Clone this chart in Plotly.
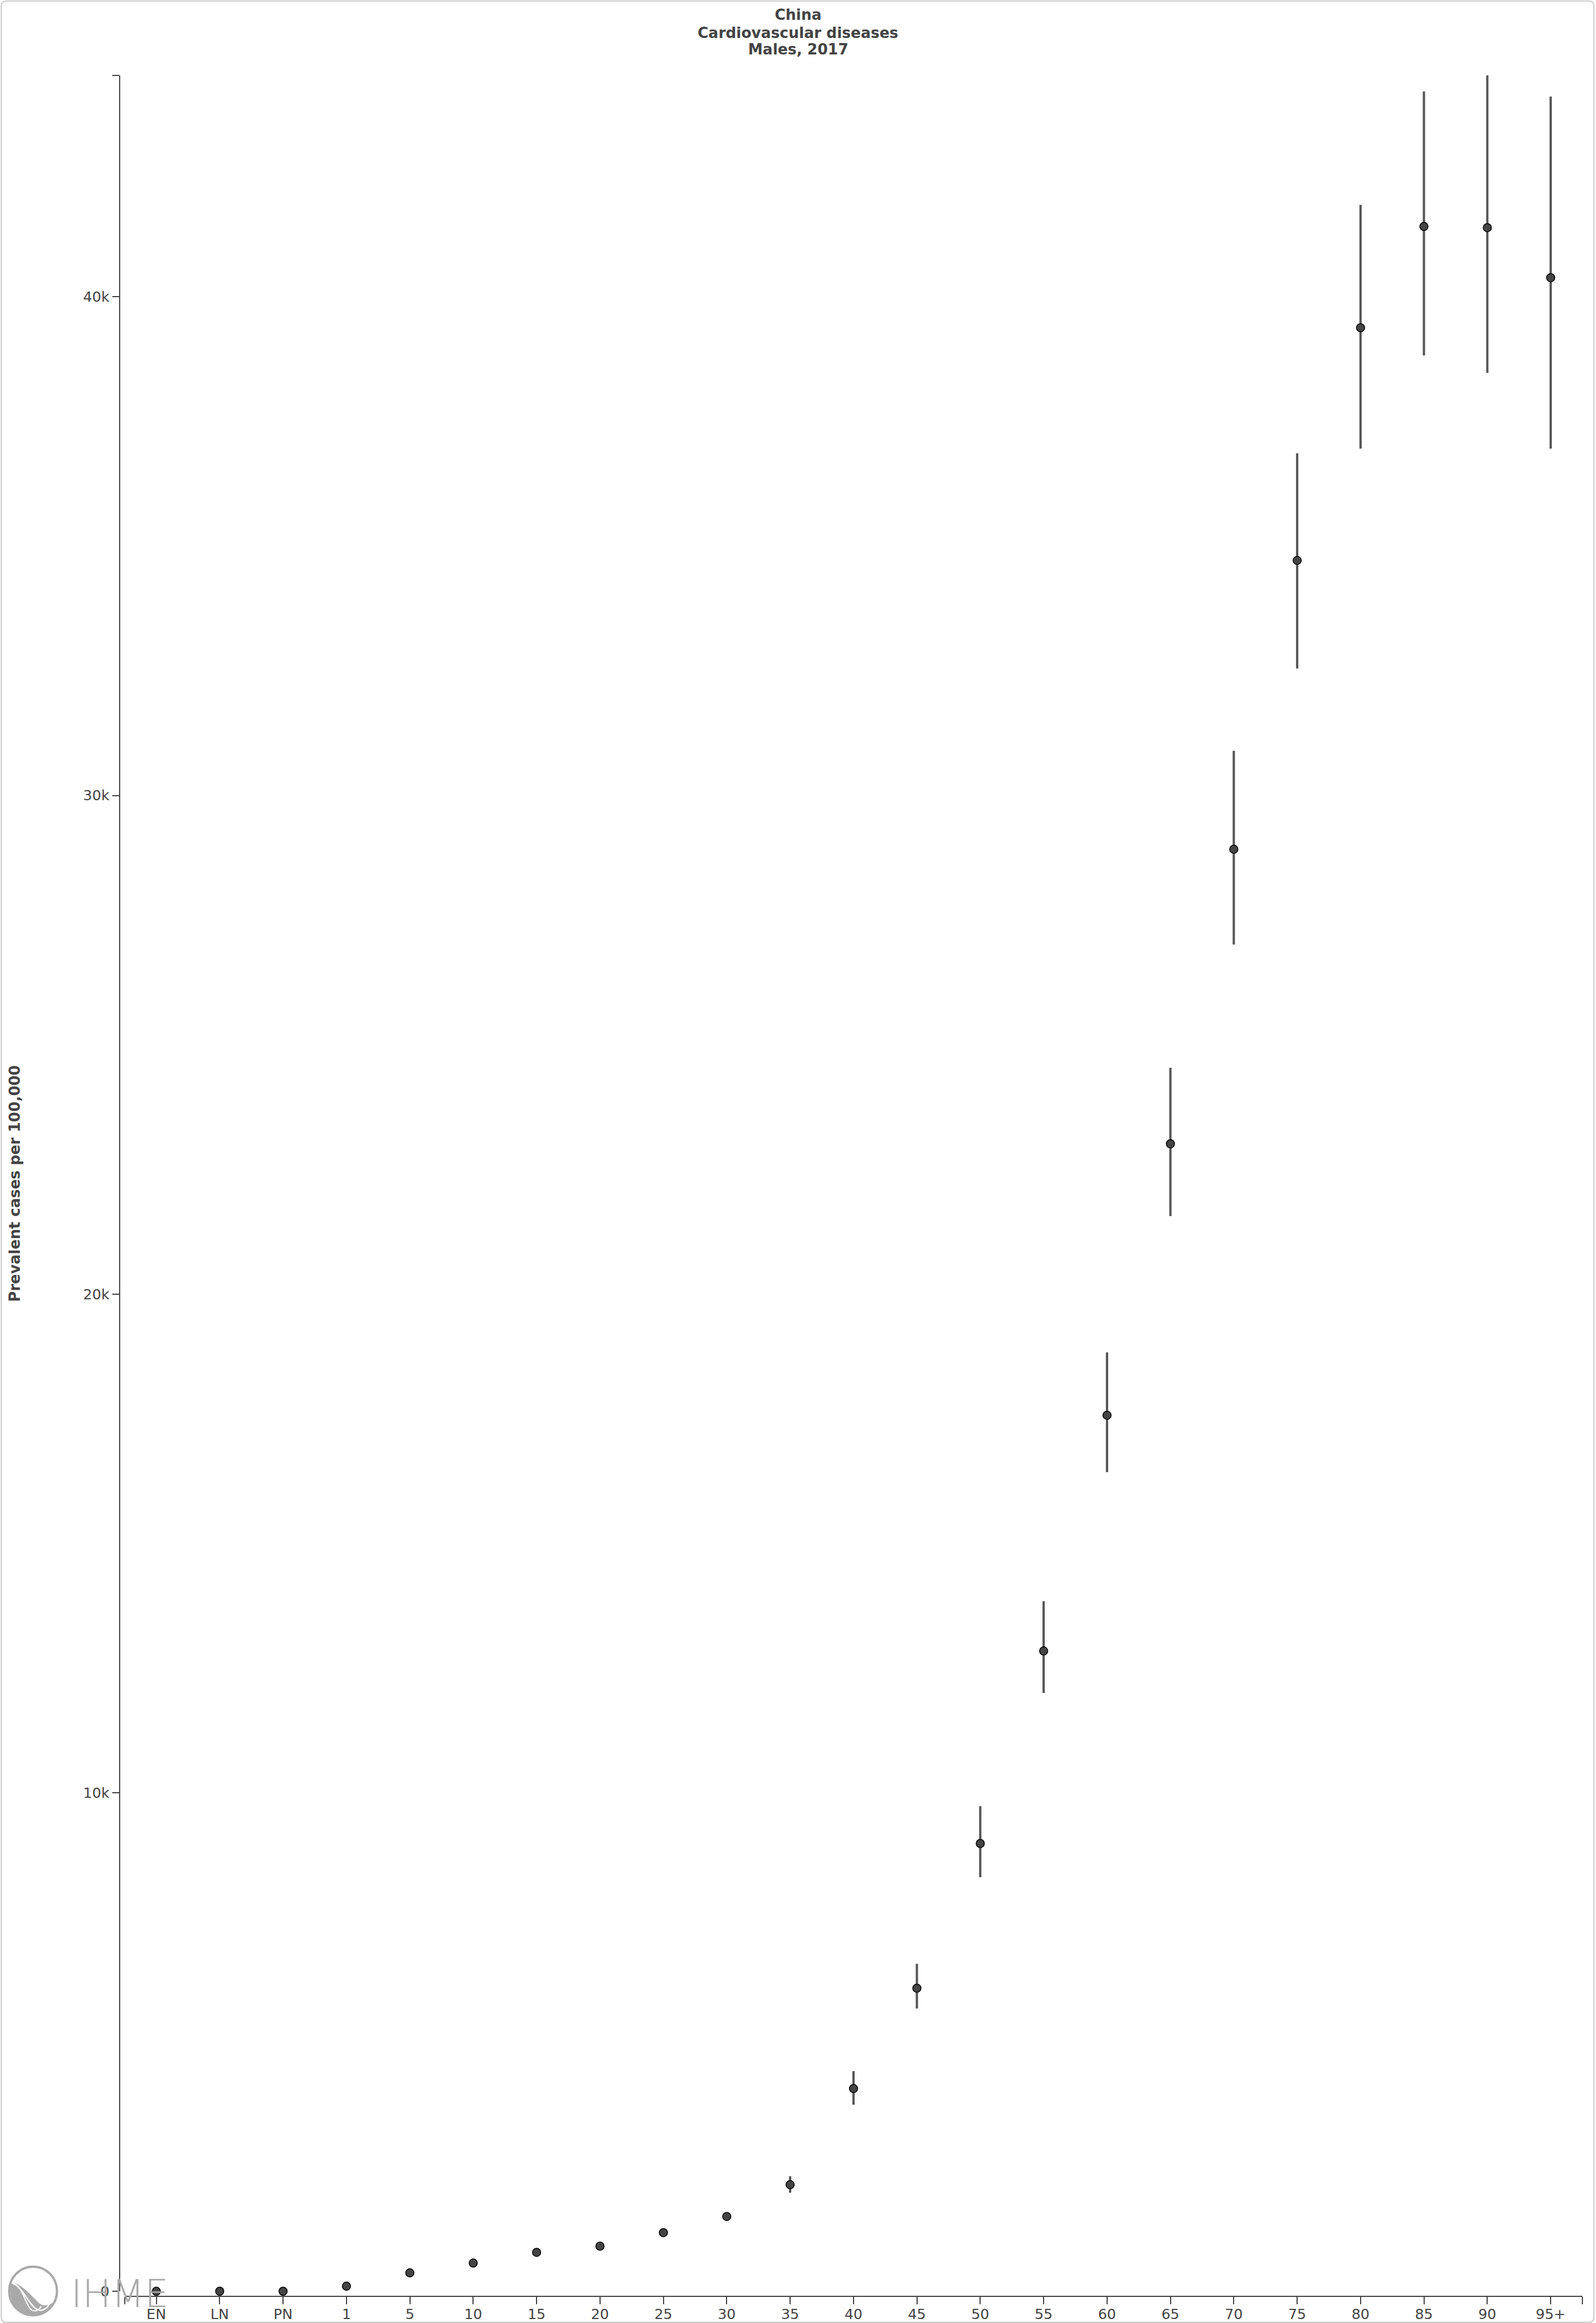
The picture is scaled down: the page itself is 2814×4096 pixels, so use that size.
import plotly.graph_objects as go

# ---------------- data ----------------
ages = ["EN", "LN", "PN", "1", "5", "10", "15", "20", "25", "30", "35", "40",
        "45", "50", "55", "60", "65", "70", "75", "80", "85", "90", "95+"]
prevalence = [2, 3, 3, 105, 372, 568, 783, 907, 1178, 1503, 2140, 4068,
              6081, 8983, 12843, 17571, 23015, 28922, 34714, 39381, 41412, 41388, 40384]
lower = [1, 2, 2, 95, 350, 540, 750, 870, 1130, 1440, 1980, 3744,
         5673, 8306, 12004, 16431, 21564, 27010, 32546, 36956, 38824, 38476, 36956]
upper = [3, 4, 4, 115, 395, 600, 820, 950, 1230, 1570, 2308, 4418,
         6570, 9732, 13841, 18832, 24540, 30897, 36864, 41846, 44121, 44441, 44017]
y_tick_vals = [0, 10000, 20000, 30000, 40000]
y_tick_text = ["0", "10k", "20k", "30k", "40k"]
title_lines = ["China", "Cardiovascular diseases", "Males, 2017"]
y_title = "Prevalent cases per 100,000"

# ---------------- geometry ----------------
W, H = 2814, 4096
S = W / 3870.0                      # reference -> window scale
L = 290 * S
R = 3837 * S
T = 182.5 * S
B = 5568 * S
pw, ph = R - L, B - T


def px(xf):
    return (xf * S - L) / pw


def py(yf):
    return (B - yf * S) / ph


TXT = "#444444"
FONT = "DejaVu Sans"
n = len(ages)
xs = list(range(n))
ymax = max(upper)

fig = go.Figure()
fig.add_trace(go.Scatter(
    x=xs, y=prevalence, mode="markers",
    marker=dict(size=14.5, color="#444444", line=dict(color="#000000", width=1.5)),
    error_y=dict(type="data", symmetric=False,
                 array=[u - v for u, v in zip(upper, prevalence)],
                 arrayminus=[v - l for v, l in zip(prevalence, lower)],
                 color="#555555", thickness=4, width=0),
    hoverinfo="skip", showlegend=False, cliponaxis=False,
))

axis_common = dict(
    showline=True, linecolor=TXT, linewidth=2.2,
    ticks="outside", tickcolor=TXT, tickwidth=2.2,
    showgrid=False, zeroline=False,
    tickfont=dict(family=FONT, size=25, color=TXT),
    anchor="free", position=0, automargin=False,
)

fig.update_layout(
    width=W, height=H,
    margin=dict(l=L, r=W - R, t=T, b=H - B, pad=0),
    paper_bgcolor="white", plot_bgcolor="white",
    xaxis=dict(
        axis_common,
        domain=[px(302), 1],
        range=[-0.5, n - 0.5],
        tickmode="array",
        tickvals=xs + [-0.5, n - 0.5],
        ticktext=ages + ["", ""],
        ticklen=13,
        ticklabelstandoff=-4,
    ),
    yaxis=dict(
        axis_common,
        domain=[py(5556), 1],
        range=[0, ymax],
        tickmode="array",
        tickvals=y_tick_vals + [ymax],
        ticktext=y_tick_text + [""],
        ticklen=12,
    ),
)

annotations = []
for line, yf in zip(title_lines, [35, 79, 119]):
    annotations.append(dict(
        text="<b>%s</b>" % line, x=px(1935), y=py(yf), xref="paper", yref="paper",
        xanchor="center", yanchor="middle", showarrow=False,
        font=dict(family=FONT, size=26, color=TXT)))
annotations.append(dict(
    text="<b>%s</b>" % y_title, x=px(36), y=py(2869), xref="paper", yref="paper",
    xanchor="center", yanchor="middle", textangle=-90, showarrow=False,
    font=dict(family=FONT, size=26, color=TXT)))
# IHME logo text
annotations.append(dict(
    text="IHME", x=px(291), y=py(5562), xref="paper", yref="paper",
    xanchor="center", yanchor="middle", showarrow=False,
    font=dict(family=FONT, size=68, color="#a9a9a9", weight=200)))
fig.update_layout(annotations=annotations)

# ---------------- shapes: logo circle and outer frame ----------------
shapes = []
shapes.append(dict(type="circle", xref="paper", yref="paper",
                   x0=px(22), x1=px(138), y0=py(5614), y1=py(5496),
                   line=dict(color="#a9a9a9", width=4), fillcolor="rgba(0,0,0,0)"))


def P(xf, yf):
    return "%f,%f" % (px(xf), py(yf))


logo_fill = ("M " + P(24, 5540) + " C " + P(40, 5525) + " " + P(70, 5560) + " " + P(95, 5585) +
             " C " + P(110, 5596) + " " + P(125, 5585) + " " + P(134, 5580) +
             " C " + P(120, 5606) + " " + P(100, 5614) + " " + P(80, 5614) +
             " C " + P(45, 5614) + " " + P(22, 5585) + " " + P(24, 5540) + " Z")
shapes.append(dict(type="path", xref="paper", yref="paper", path=logo_fill,
                   fillcolor="#a9a9a9", line=dict(width=0)))
swoosh = ("M " + P(30, 5536) + " C " + P(55, 5545) + " " + P(70, 5590) + " " + P(90, 5600) +
          " C " + P(100, 5606) + " " + P(115, 5598) + " " + P(120, 5585))
shapes.append(dict(type="path", xref="paper", yref="paper", path=swoosh,
                   line=dict(color="white", width=2.5)))
swoosh2 = ("M " + P(40, 5540) + " C " + P(60, 5560) + " " + P(60, 5585) + " " + P(75, 5600) +
           " C " + P(85, 5608) + " " + P(95, 5600) + " " + P(100, 5592))
shapes.append(dict(type="path", xref="paper", yref="paper", path=swoosh2,
                   line=dict(color="white", width=2)))

# outer rounded frame
x0f, x1f, y0f, y1f, r = 3, 3865, 2, 5631, 12
frame = ("M " + P(x0f + r, y0f) + " L " + P(x1f - r, y0f) +
         " Q " + P(x1f, y0f) + " " + P(x1f, y0f + r) +
         " L " + P(x1f, y1f - r) + " Q " + P(x1f, y1f) + " " + P(x1f - r, y1f) +
         " L " + P(x0f + r, y1f) + " Q " + P(x0f, y1f) + " " + P(x0f, y1f - r) +
         " L " + P(x0f, y0f + r) + " Q " + P(x0f, y0f) + " " + P(x0f + r, y0f) + " Z")
shapes.append(dict(type="path", xref="paper", yref="paper", path=frame,
                   line=dict(color="#cccccc", width=2.2), fillcolor="rgba(0,0,0,0)"))
fig.update_layout(shapes=shapes)

fig.write_html("out.html", config={"displayModeBar": False})
